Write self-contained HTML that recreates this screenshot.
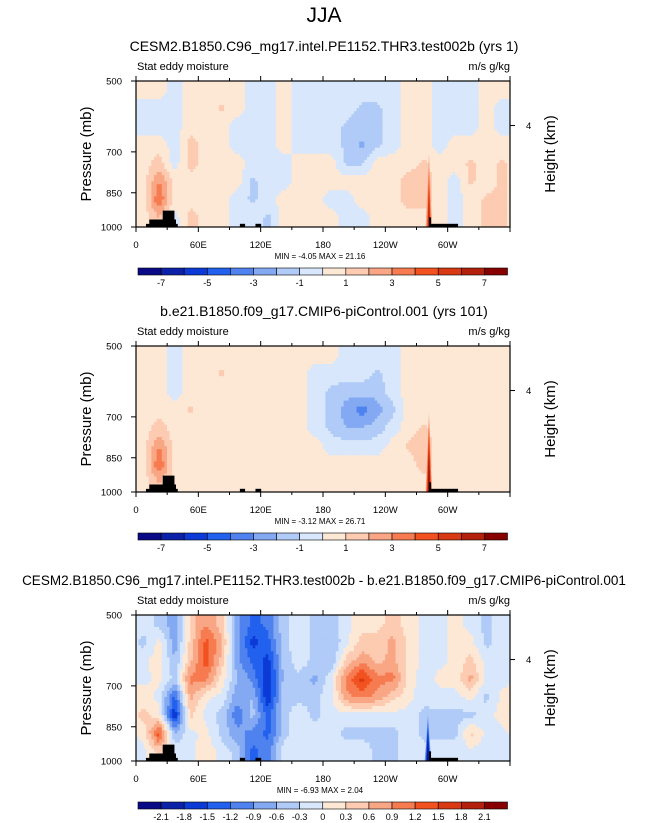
<!DOCTYPE html>
<html><head><meta charset="utf-8"><style>
body{margin:0;background:#fff;}
svg{display:block;font-family:"Liberation Sans",sans-serif;}
</style></head><body>
<svg id="fig" width="647" height="823" viewBox="0 0 647 823" xmlns="http://www.w3.org/2000/svg">
<text x="324" y="22" font-size="21" text-anchor="middle">JJA</text>
</svg>
<script>
// ---- data ----
const lonTicks = [0,60,120,180,240,300];
const lonLabels = ["0","60E","120E","180","120W","60W"];
const presTicks = [500,700,850,1000];
const levels1 = [-7,-6,-5,-4,-3,-2,-1,0,1,2,3,4,5,6,7];
const cbLabels1 = ["-7","-5","-3","-1","1","3","5","7"];
const levels3 = [-2.1,-1.8,-1.5,-1.2,-0.9,-0.6,-0.3,0,0.3,0.6,0.9,1.2,1.5,1.8,2.1];
const cbLabels3 = ["-2.1","-1.8","-1.5","-1.2","-0.9","-0.6","-0.3","0","0.3","0.6","0.9","1.2","1.5","1.8","2.1"];
const palette = ['#0a0a86','#0b22a8','#0c3ad6','#2260ee','#4f82ee','#84a9f3','#b0cbf8','#d8e7fb','#fde8d6','#fccbb1','#f9a685','#f77b50','#f25220','#d83812','#b3200b','#880000'];
const grid1 = [
[.5,.5,-.5,.5,.5,.5,.5,-.5,-.5,.5,-.5,-.5,-.5,-.5,-.5,-.5,-.5,.5,.5,-.5,-.5,-.5,.5,.5],
[-.5,-.5,-.5,.5,.5,1.2,.5,-.5,-.5,.5,-.5,-.5,-.5,-.5,-1.2,-1.2,-.5,.5,.5,-.5,-.5,-.5,.5,-.5],
[-.5,-.5,-.5,.5,.5,.5,-.5,-.5,-.5,.5,-.5,-.5,-.5,-1.2,-1.5,-1.2,-.5,.5,.5,-.5,-.5,-.5,.5,-.5],
[.5,.5,-.5,1.5,.5,.5,-.5,-.5,-.5,.5,-.5,-.5,-.5,-1.2,-2.2,-1.2,-.5,.5,.5,-.5,.5,.5,.5,.5],
[.5,1.5,-.5,1.5,.5,.5,.5,-.5,-.5,-.5,.5,.5,.5,-1.2,-1.2,.5,.5,.5,1.2,.5,.5,1.2,.5,1.2],
[.5,3,.5,.5,.5,.5,.5,-1.2,-.5,-.5,.5,.5,.5,.5,.5,.5,.5,1.5,1.5,.5,-.5,1.2,.5,1.2],
[.5,4,.5,.5,.5,.5,-.5,-1.2,-.5,.5,.5,.5,-.5,-.5,.5,.5,.5,1.5,1.5,.5,-.5,.5,1.2,1.2],
[.5,2,-.5,1.5,.5,.5,-.5,-.5,-1.2,.5,.5,.5,.5,-.5,-.5,.5,.5,.5,.5,.5,-.5,.5,1.2,1.2]];
const grid2 = [
[.5,.5,-.5,.5,.5,.5,.5,.5,.5,.5,.5,.5,.5,-.5,-.5,-.5,-.5,.5,.5,.5,.5,.5,.5,.5],
[.5,.5,-.5,.5,.5,1.2,.5,.5,.5,.5,.5,-.5,-.5,-.5,-.5,-1.2,-.5,.5,.5,.5,.5,.5,.5,.5],
[.5,.5,-.5,.5,.5,.5,.5,.5,.5,.5,.5,-.5,-1.2,-1.5,-1.5,-1.5,-.5,.5,.5,.5,.5,.5,.5,.5],
[.5,.5,.5,1.2,.5,.5,.5,.5,.5,.5,.5,-.5,-1.2,-2.5,-3.5,-2.5,-1.2,.5,.5,.5,.5,.5,.5,.5],
[.5,1.5,.5,.5,.5,.5,.5,.5,.5,.5,.5,-.5,-1.2,-2,-2,-1.5,-.5,.5,1.2,.5,.5,.5,.5,.5],
[.5,3,.5,.5,.5,.5,.5,.5,.5,.5,.5,.5,-.5,-.5,-.5,-.5,.5,1.2,1.5,.5,.5,.5,.5,.5],
[.5,4,.5,.5,.5,.5,.5,.5,.5,.5,.5,.5,.5,.5,.5,.5,.5,.5,1.5,.5,.5,.5,.5,.5],
[.5,2,.5,.5,.5,.5,.5,.5,.5,.5,.5,.5,.5,.5,.5,.5,.5,.5,.5,.5,.5,.5,.5,.5]];
const grid3 = [
[-.1,-.4,-.8,.4,.9,.4,-.8,-1.3,-1.1,-.4,-.1,-.4,-.5,-.1,.2,.2,.4,.2,-.1,-.1,.1,-.1,-.4,-.1],
[-.4,.1,-.8,.4,1.3,.7,-.8,-1.6,-1.3,-.4,-.1,-.4,-.6,-.1,.4,.4,.7,.2,-.1,-.1,.1,.1,-.4,-.1],
[-.1,.2,-.6,.5,1.4,.5,-.8,-1.3,-1.6,-.5,-.1,-.4,-.6,.4,.8,.5,.7,.2,-.1,-.1,.1,.4,-.1,-.1],
[-.1,.1,-.4,1.0,1.0,.2,-.6,-1.0,-1.8,-.5,-.4,-.7,-.1,1.0,1.6,1.0,1.0,.2,-.2,.1,.1,.7,-.1,-.1],
[.2,-.1,-1.3,.7,.1,-.1,-.8,-.6,-1.8,-.4,-.4,-.4,-.1,.8,1.0,.8,.4,.1,-.2,-.1,-.1,.1,-.4,.1],
[.4,.1,-1.8,.4,-.1,-.4,-1.1,-.5,-1.3,-.4,-.1,-.4,-.1,-.1,-.1,-.1,-.1,-.1,-.4,-.4,-.4,-.4,-.1,.1],
[.1,1.4,-.6,-.1,.1,-.4,-.8,-1.0,-1.3,-.4,-.1,-.1,-.1,-.4,-.4,-.4,-.4,-.1,-.4,-.4,-.4,.4,-.1,-.1],
[-.1,.4,-.1,-.1,.2,-.1,-.4,-1.3,-1.0,-.1,-.1,-.1,-.1,-.1,-.1,-.4,-.4,-.1,-.2,-.1,-.1,-.1,-.1,-.1]];
// narrow spikes over the Andes: [lon, top pressure, peak value]
const spikes1 = [[282,680,6.5]];
const spikes2 = [[282,660,7.5]];
const spikes3 = [[281,780,-2.2]];
// terrain outline: [lon, pressure]
const terrain = [[9.6,1000],[9.6,985],[12.8,985],[12.8,965],[25.7,965],[25.7,925],[37,925],[37,965],[38.5,965],[38.5,985],[40.2,985],[40.2,1000]];
const boxes = [[100,105,985],[115,120.5,985],[282,284,955],[284,310,985]];
const panels = [
 {title:"CESM2.B1850.C96_mg17.intel.PE1152.THR3.test002b (yrs 1)", grid:grid1, spikes:spikes1, levels:levels1, cb:cbLabels1, cbAll:false, minmax:"MIN =  -4.05   MAX =  21.16", dy:0},
 {title:"b.e21.B1850.f09_g17.CMIP6-piControl.001 (yrs 101)", grid:grid2, spikes:spikes2, levels:levels1, cb:cbLabels1, cbAll:false, minmax:"MIN =  -3.12   MAX =  26.71", dy:265},
 {title:"CESM2.B1850.C96_mg17.intel.PE1152.THR3.test002b - b.e21.B1850.f09_g17.CMIP6-piControl.001", grid:grid3, spikes:spikes3, levels:levels3, cb:cbLabels3, cbAll:true, minmax:"MIN =  -6.93   MAX =  2.04", dy:534}
];
// ---- rendering ----
const NS="http://www.w3.org/2000/svg";
const svg=document.getElementById('fig');
function el(tag,attrs,parent,txt){const e=document.createElementNS(NS,tag);for(const k in attrs)e.setAttribute(k,attrs[k]);if(txt!==undefined)e.textContent=txt;(parent||svg).appendChild(e);return e;}
const X0=136,X1=510;
function xs(lon){return X0+(lon/360)*(X1-X0);}
function colorFor(v,lv){let i=0;while(i<lv.length&&v>lv[i])i++;return palette[i];}
function sample(grid,u,v){
 const nr=grid.length,nc=grid[0].length;
 v=Math.max(0,Math.min(nr-1,v));
 const r0=Math.floor(v),r1=Math.min(nr-1,r0+1),fv=v-r0;
 const cf=Math.floor(u),fu=u-cf;
 const c0=((cf%nc)+nc)%nc,c1=(c0+1)%nc;
 const a=grid[r0][c0]*(1-fu)+grid[r0][c1]*fu;
 const b=grid[r1][c0]*(1-fu)+grid[r1][c1]*fu;
 return a*(1-fv)+b*fv;
}
const SUB=6;
panels.forEach((p,pi)=>{
 const Y0=81+p.dy,Y1=227+p.dy;
 const ys=pr=>Y0+(Math.log(pr)-Math.log(500))/(Math.log(1000)-Math.log(500))*(Y1-Y0);
 const g=el('g',{},svg);
 
 
 const t=el('text',{x:324,y:51+p.dy,'font-size':pi==2?13.5:14,'text-anchor':'middle'},g,p.title);
 
 
 const l1=el('text',{x:137,y:70+p.dy,'font-size':11},g,"Stat eddy moisture");
 
 
 const l2=el('text',{x:510,y:70+p.dy,'font-size':11,'text-anchor':'end'},g,"m/s g/kg");
 
 
 const cid='clip'+pi;
 const cp=el('clipPath',{id:cid},g);el('rect',{x:X0,y:Y0,width:X1-X0,height:Y1-Y0},cp);
 const outer=el('g',{'clip-path':'url(#'+cid+')'},g);
 const field=el('g',{},outer);
 
 
 const nr=p.grid.length,nc=p.grid[0].length;
 const NX=nc*SUB,NY=nr*SUB;
 const cw=(X1-X0)/NX,chh=(Y1-Y0)/NY;
 for(let j=0;j<NY;j++)for(let i=0;i<NX;i++){
  const u=(i+0.5)/SUB-0.5,v=(j+0.5)/SUB-0.5;
  const val=sample(p.grid,u,v);
  const cell=el('rect',{x:X0+i*cw-0.2,y:Y0+j*chh-0.2,width:cw+0.4,height:chh+0.4,fill:colorFor(val,p.levels)},field);
  
  
 }
 // spikes: nested narrowing bands of increasing magnitude
 p.spikes.forEach(s=>{
  const base=sample(p.grid,s[0]/15-0.5,6);
  const steps=6;
  for(let k=1;k<=steps;k++){
   const f=k/steps;
   const val=base+(s[2]-base)*f;
   const half=3.2*(1-f)+0.6;
   const top=ys(s[1])+(Y1-ys(s[1]))*f*0.55;
   const sp=el('polygon',{points:[xs(s[0])-half+','+Y1,xs(s[0])+','+top,xs(s[0])+half+','+Y1].join(' '),fill:colorFor(val,p.levels)},outer);
   
   
  }
 });
 const pts=terrain.map(q=>xs(q[0])+','+ys(q[1])).join(' ');
 const tp=el('polygon',{points:pts,fill:'#000'},outer);
 
 
 boxes.forEach(b=>{const bx=el('rect',{x:xs(b[0]),y:ys(b[2]),width:xs(b[1])-xs(b[0]),height:Y1-ys(b[2]),fill:'#000'},outer);
  
  });
 const fr=el('rect',{x:X0,y:Y0,width:X1-X0,height:Y1-Y0,fill:'none',stroke:'#000','stroke-width':1.2},g);
 
 
 for(let lon=0;lon<=360;lon+=30){const major=lon%60==0;const len=major?5:3;
  el('line',{x1:xs(lon),x2:xs(lon),y1:Y1,y2:Y1+len,stroke:'#000'},g);
  el('line',{x1:xs(lon),x2:xs(lon),y1:Y0,y2:Y0-len,stroke:'#000'},g);}
 lonTicks.forEach((lon,i)=>{const tx=el('text',{x:xs(lon),y:Y1+21,'font-size':9.5,'text-anchor':'middle'},g,lonLabels[i]);
  
  });
 presTicks.forEach(pr=>{el('line',{x1:X0-5,x2:X0,y1:ys(pr),y2:ys(pr),stroke:'#000'},g);
  const ty=el('text',{x:122,y:ys(pr)+3.5,'font-size':9.5,'text-anchor':'end'},g,String(pr));
  
  });
 const h4=Y0+0.305*(Y1-Y0);
 el('line',{x1:X1,x2:X1+5,y1:h4,y2:h4,stroke:'#000'},g);
 const ht=el('text',{x:526,y:h4+3.5,'font-size':9.5},g,"4");
 
 
 const yl=el('text',{x:0,y:0,'font-size':15,'text-anchor':'middle',transform:'translate(91,'+((Y0+Y1)/2)+') rotate(-90)'},g,"Pressure (mb)");
 
 
 const yr=el('text',{x:0,y:0,'font-size':15,'text-anchor':'middle',transform:'translate(555,'+((Y0+Y1)/2)+') rotate(-90)'},g,"Height (km)");
 
 
 const mm=el('text',{x:320,y:Y1+32,'font-size':8,'text-anchor':'middle'},g,p.minmax);
 
 
 const CY=Y1+41,CX0=138,CX1=507.5,bw=(CX1-CX0)/16;
 const cb=el('g',{},g);
 
 
 palette.forEach((c,i)=>{const b=el('rect',{x:CX0+i*bw,y:CY,width:bw,height:7,fill:c,stroke:'#000','stroke-width':0.6},cb);
  
  });
 p.cb.forEach((lab,i)=>{const idx=p.cbAll?i+1:2*i+1;
  const tx=el('text',{x:CX0+idx*bw,y:CY+18,'font-size':9,'text-anchor':'middle'},cb,lab);
  
  });
});
</script>
</body></html>
